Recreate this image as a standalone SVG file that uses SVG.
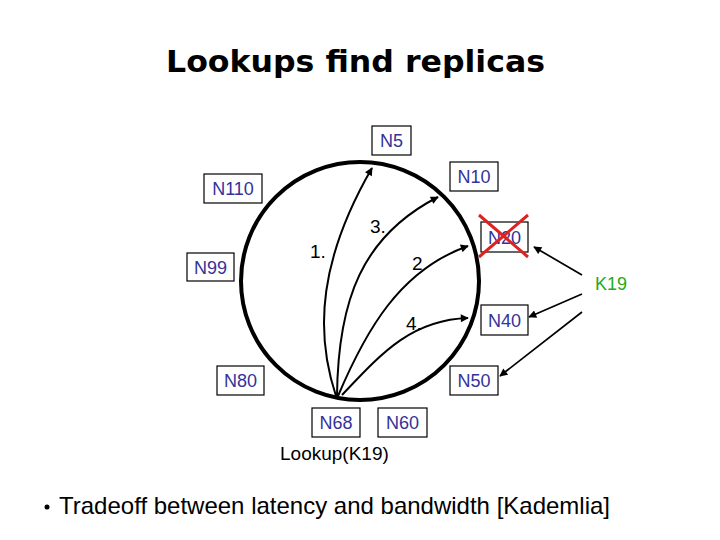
<svg xmlns="http://www.w3.org/2000/svg" width="720" height="540" viewBox="0 0 720 540">
<style>
.box{fill:#fff;stroke:#000;stroke-width:1.2}
.lbl{font-family:"Liberation Sans",Arial,sans-serif;font-size:18px;fill:#333399;text-anchor:middle}
.blk{font-family:"Liberation Sans",Arial,sans-serif;font-size:19px;fill:#000}
.arr{fill:none;stroke:#000;stroke-width:2;marker-end:url(#ah)}
.karr{fill:none;stroke:#000;stroke-width:1.7;marker-end:url(#ah)}
</style>
<defs>
<marker id="ah" viewBox="0 0 10 10" refX="9" refY="5" markerWidth="10" markerHeight="8" orient="auto" markerUnits="userSpaceOnUse">
<path d="M0,0 L10,5 L0,10 Z" fill="#000"/>
</marker>
</defs>
<rect width="720" height="540" fill="#fff"/>
<text x="166" y="72" font-family="DejaVu Sans,Verdana,sans-serif" font-weight="bold" font-size="31" textLength="379" lengthAdjust="spacingAndGlyphs">Lookups find replicas</text>
<circle id="ring" cx="360" cy="281" r="119" fill="none" stroke="#000" stroke-width="4"/>
<g id="connectors">
<path class="arr" d="M336,396 C314,330 320,258 372,168"/>
<path class="arr" d="M337,396 C338,300 362,236 438,197"/>
<path class="arr" d="M338,396 C366,330 400,270 468,246"/>
<path class="arr" d="M342,395 C380,355 410,320 468,318"/>
<path class="karr" d="M582,275 L534,247"/>
<path class="karr" d="M582,294 L529,317"/>
<path class="karr" d="M582,312 L500,376"/>
</g>
<text class="blk" x="310" y="258">1.</text>
<text class="blk" x="370" y="233">3.</text>
<text class="blk" x="412" y="270">2</text>
<text class="blk" x="406" y="330">4.</text>
<g id="N5"><rect class="box" x="372" y="126" width="39" height="29"/><text class="lbl" x="391.5" y="147">N5</text></g>
<g id="N10"><rect class="box" x="450" y="162" width="48" height="29"/><text class="lbl" x="474" y="183">N10</text></g>
<g id="N110"><rect class="box" x="204" y="174" width="58" height="29"/><text class="lbl" x="233" y="195">N110</text></g>
<g id="N99"><rect class="box" x="187" y="253" width="47" height="28"/><text class="lbl" x="210.5" y="273.5">N99</text></g>
<g id="N20"><rect class="box" x="481" y="222" width="47" height="30"/><text class="lbl" x="504.5" y="243.5">N20</text>
<path d="M479,215 L528,257 M528,215 L479,257" stroke="#dd2222" stroke-width="3"/></g>
<g id="N40"><rect class="box" x="481" y="305" width="47" height="30"/><text class="lbl" x="504.5" y="326.5">N40</text></g>
<g id="N50"><rect class="box" x="450" y="366" width="48" height="29"/><text class="lbl" x="474" y="387">N50</text></g>
<g id="N80"><rect class="box" x="217" y="366" width="47" height="29"/><text class="lbl" x="240.5" y="387">N80</text></g>
<g id="N68"><rect class="box" x="312" y="408" width="48" height="29"/><text class="lbl" x="336" y="429">N68</text></g>
<g id="N60"><rect class="box" x="378" y="408" width="49" height="29"/><text class="lbl" x="402.5" y="429">N60</text></g>
<g id="K19"><text x="595" y="290" font-family="Liberation Sans,Arial,sans-serif" font-size="18" fill="#22aa22">K19</text></g>
<text x="280" y="460" font-family="Liberation Sans,Arial,sans-serif" font-size="19" fill="#000">Lookup(K19)</text>
<circle cx="47" cy="507" r="2.5" fill="#000"/>
<text x="59" y="514" font-family="Liberation Sans,Arial,sans-serif" font-size="24" fill="#000">Tradeoff between latency and bandwidth [Kademlia]</text>
</svg>
